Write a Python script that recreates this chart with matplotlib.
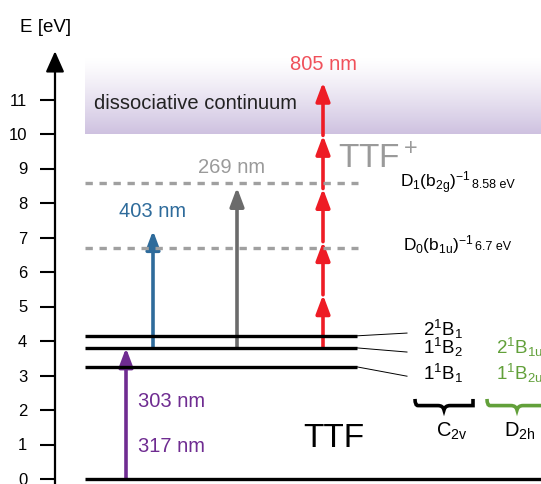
import matplotlib
matplotlib.use('Agg')
import matplotlib.pyplot as plt
import numpy as np
from matplotlib.patches import FancyArrowPatch, PathPatch
from matplotlib.path import Path

plt.rcParams['font.family'] = ['Liberation Sans', 'DejaVu Sans']
plt.rcParams['mathtext.fontset'] = 'custom'
plt.rcParams['mathtext.rm'] = 'Liberation Sans'
plt.rcParams['mathtext.it'] = 'Liberation Sans:italic'

# energy levels (eV)
ticks = list(range(12))
neutral_E = [3.25, 3.8, 4.15]
neutral_labels = [r'$\mathregular{1^1B_1}$', r'$\mathregular{1^1B_2}$', r'$\mathregular{2^1B_1}$']
d2h_labels = [r'$\mathregular{1^1B_{2u}}$', r'$\mathregular{2^1B_{1u}}$']
ion_E = [6.7, 8.58]
ion_labels = [r'$\mathregular{D_0(b_{1u})^{-1}}$',
              r'$\mathregular{D_1(b_{2g})^{-1}}$']
ion_values = ['6.7 eV', '8.58 eV']
continuum_E = 10.0
continuum_top = 12.2

# excitation arrows: (start, end)
pump = (0.0, 3.8)
probe_403 = (3.8, 7.2)
probe_269 = (3.8, 8.45)
photon_805 = 1.54
n_805 = 5

purple = '#6f2c91'
blue = '#2e6b9b'
gray = '#6b6b6b'
red = '#ee1c25'
green = '#62a03a'

px = 34.5  # pixels per eV
fig = plt.figure(figsize=(5.41, 4.84), dpi=100)
ax = fig.add_axes([55 / 541, 0, 486 / 541, 1])
ax.set_xlim(55, 541)
ax.set_ylim(-5 / px, 479 / px)
for s in ['top', 'right', 'bottom']:
    ax.spines[s].set_visible(False)
ax.spines['left'].set_linewidth(1.6)
ax.spines['left'].set_bounds(-0.2, 12.0)
ax.set_xticks([])
ax.set_yticks(ticks)
ax.tick_params(axis='y', length=11, width=1.5, labelsize=12, pad=9)
ax.annotate('', xy=(55, 12.4), xytext=(55, 11.8),
            arrowprops=dict(arrowstyle='-|>,head_length=0.9,head_width=0.4',
                            color='black', lw=1.6, shrinkA=0, shrinkB=0,
                            mutation_scale=14), annotation_clip=False)
ax.text(46, 13.1, 'E [eV]', fontsize=13.5, ha='center', va='center')

# dissociative continuum band
grad = np.linspace(0, 1, 100).reshape(-1, 1) ** 1.2
c0 = np.array([1.0, 1.0, 1.0])
c1 = np.array([0.81, 0.76, 0.88])
img = c0 + (c1 - c0) * grad[..., None]
ax.imshow(img, extent=[85, 541, continuum_E, continuum_top], aspect='auto',
          origin='upper', zorder=0)
ax.text(94, 10.72, 'dissociative continuum', fontsize=14.5, va='baseline',
        color='#222222')

# ground state
ax.plot([85, 541], [0, 0], color='black', lw=2.4, solid_capstyle='butt',
        clip_on=False)

# neutral excited states
for e in neutral_E:
    ax.plot([85, 357], [e, e], color='black', lw=2.4, solid_capstyle='butt')
conn_end = [2.98, 3.68, 4.23]
for e, ce in zip(neutral_E, conn_end):
    ax.plot([357, 407], [e, ce], color='black', lw=0.7)
label_base = [2.87, 3.62, 4.14]
for lab, y in zip(neutral_labels, label_base):
    ax.text(423, y, lab, fontsize=13.5, ha='left', va='baseline')
for lab, y in zip(d2h_labels, label_base[:2]):
    ax.text(496, y, lab, fontsize=13.5, ha='left', va='baseline', color=green,
            clip_on=False)

# ionic states
for e in ion_E:
    ax.plot([85, 358], [e, e], color='#a0a0a0', lw=2.4, ls=(0, (2.2, 2.0)))
ax.text(403, 6.64, ion_labels[0], fontsize=12.5, va='baseline')
ax.text(475, 6.64, ion_values[0], fontsize=9, va='baseline')
ax.text(400, 8.43, ion_labels[1], fontsize=12.5, va='baseline')
ax.text(472, 8.43, ion_values[1], fontsize=9, va='baseline')
ax.text(338, 9.01, r'$\mathregular{TTF^+}$', fontsize=24, color='#9a9a9a',
        va='baseline')
ax.text(334, 0.93, 'TTF', fontsize=24, ha='center', va='baseline')


def arrow(x, y0, y1, color):
    a = FancyArrowPatch((x, y0), (x, y1),
                        arrowstyle='-|>,head_length=0.8,head_width=0.3',
                        mutation_scale=14, color=color, lw=2.6,
                        shrinkA=0, shrinkB=0)
    ax.add_patch(a)


arrow(126, pump[0], pump[1], purple)
ax.text(138, 2.09, '303 nm', fontsize=14.5, color=purple, va='baseline')
ax.text(138, 0.78, '317 nm', fontsize=14.5, color=purple, va='baseline')
arrow(153, probe_403[0], probe_403[1], blue)
ax.text(152.5, 7.59, '403 nm', fontsize=14.5, color=blue, ha='center',
        va='baseline')
arrow(237, probe_269[0], probe_269[1], gray)
ax.text(232, 8.87, '269 nm', fontsize=14.5, color='#9a9a9a', ha='center',
        va='baseline')
for i in range(n_805):
    arrow(323, 3.8 + i * photon_805, 3.8 + (i + 1) * photon_805, red)
ax.text(324, 11.86, '805 nm', fontsize=14.5, color='#f0505a', ha='center',
        va='baseline')


def brace(x0, x1, ytop, ybot, color):
    xm = (x0 + x1) / 2
    yf = ytop - (ytop - ybot) * 0.6
    verts = [(x0, ytop), (x0, yf), (x0 + 3, yf), (x0 + 6, yf),
             (xm - 6, yf), (xm - 1, yf), (xm, ybot),
             (xm + 1, yf), (xm + 6, yf),
             (x1 - 6, yf), (x1 - 3, yf), (x1, yf), (x1, ytop)]
    codes = [Path.MOVETO, Path.CURVE3, Path.CURVE3, Path.LINETO,
             Path.LINETO, Path.CURVE3, Path.CURVE3, Path.CURVE3, Path.CURVE3,
             Path.LINETO, Path.CURVE3, Path.CURVE3, Path.LINETO]
    ax.add_patch(PathPatch(Path(verts, codes), fill=False, ec=color, lw=2.6,
                           clip_on=False))


brace(415, 473, 2.32, 2.0, 'black')
brace(487, 547, 2.32, 2.0, green)
ax.text(436, 1.22, r'$\mathregular{C_{2v}}$', fontsize=14.5, ha='left',
        va='baseline')
ax.text(504, 1.22, r'$\mathregular{D_{2h}}$', fontsize=14.5, ha='left',
        va='baseline')

fig.savefig('out.png', dpi=100)
